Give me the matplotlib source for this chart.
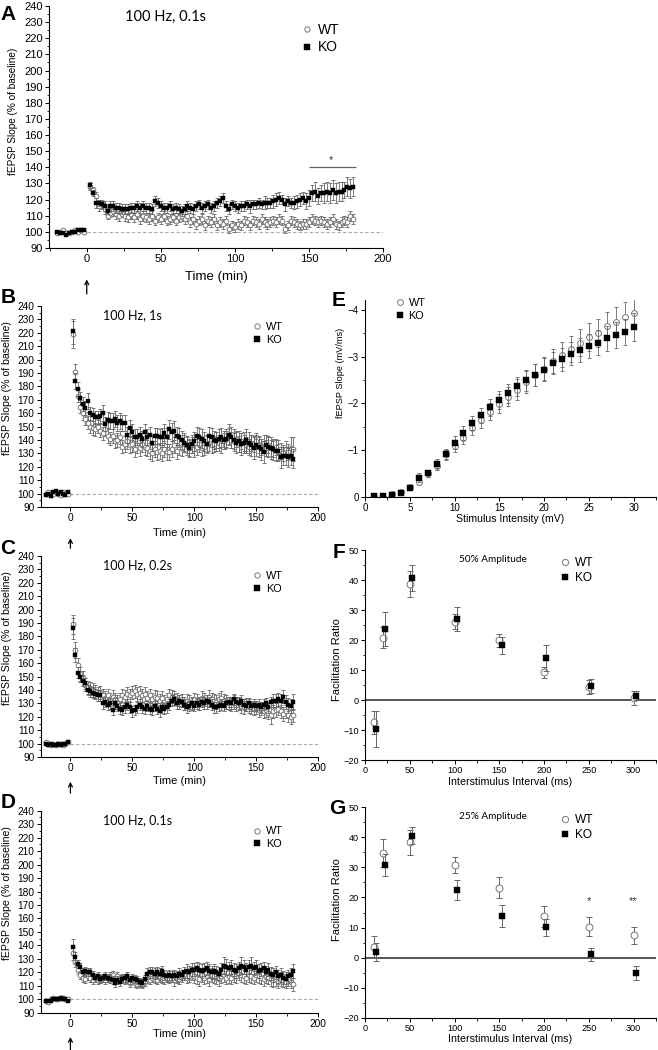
import numpy as np
import matplotlib
matplotlib.use('Agg')
import matplotlib.pyplot as plt
from matplotlib.lines import Line2D
from matplotlib.ticker import MultipleLocator

plt.rcParams['font.family'] = ['Liberation Sans', 'DejaVu Sans']
plt.rcParams['axes.linewidth'] = 0.8

# ---- time course data (baseline -20..-2 min, post 2..180 min, every 2 min) ----
t_base = np.arange(-20, 0, 2)
t_post = np.arange(2, 182, 2)

A_ko_base = [100, 99, 99, 98, 99, 100, 100, 101, 101, 101]
A_wt_base = [99, 100, 101, 99, 99, 100, 101, 100, 101, 100]
A_ko = [129, 124, 118, 118, 117, 116, 113, 116, 116, 115,
        115, 114, 114, 114, 115, 115, 116, 115, 116, 115,
        115, 114, 119, 118, 116, 115, 115, 116, 114, 115,
        114, 113, 114, 116, 115, 114, 116, 117, 115, 116,
        117, 115, 116, 118, 119, 121, 116, 114, 117, 116,
        115, 116, 116, 117, 116, 117, 117, 118, 117, 118,
        118, 118, 119, 120, 121, 120, 117, 119, 118, 118,
        119, 120, 121, 119, 121, 124, 125, 122, 124, 124,
        125, 124, 126, 124, 125, 125, 126, 128, 127, 128]
A_wt = [128, 126, 122, 116, 117, 114, 110, 112, 113, 111,
        110, 111, 110, 109, 111, 109, 111, 108, 110, 109,
        108, 110, 107, 109, 108, 110, 107, 108, 109, 107,
        109, 110, 108, 110, 106, 108, 105, 107, 108, 104,
        107, 106, 108, 104, 106, 105, 107, 102, 104, 103,
        105, 104, 107, 106, 104, 107, 106, 105, 108, 106,
        105, 106, 107, 106, 108, 107, 102, 104, 107, 106,
        105, 104, 105, 105, 106, 108, 107, 106, 107, 106,
        105, 106, 108, 105, 104, 106, 107, 106, 110, 108]
A_ko_err = [2, 2, 3, 2, 3, 3, 2, 3, 3, 3,
            3, 3, 3, 3, 3, 3, 3, 3, 3, 3,
            3, 3, 3, 3, 3, 3, 3, 3, 3, 3,
            3, 3, 3, 3, 3, 3, 3, 3, 3, 3,
            3, 3, 3, 3, 3, 3, 3, 3, 3, 3,
            3, 3, 3, 3, 4, 3, 3, 3, 3, 4,
            3, 3, 4, 4, 4, 3, 4, 3, 3, 4,
            4, 4, 4, 5, 5, 5, 6, 5, 5, 6,
            6, 6, 6, 6, 6, 6, 5, 6, 6, 6]
A_wt_err = [2, 2, 3, 3, 2, 3, 2, 3, 3, 3,
            3, 2, 3, 3, 3, 3, 3, 3, 3, 3,
            3, 3, 3, 3, 3, 3, 3, 3, 3, 3,
            3, 3, 3, 3, 3, 3, 3, 3, 3, 3,
            3, 3, 3, 3, 3, 3, 3, 3, 3, 3,
            3, 3, 3, 3, 3, 3, 3, 3, 3, 3,
            3, 3, 3, 3, 3, 3, 3, 3, 3, 3,
            3, 3, 3, 3, 3, 3, 3, 3, 3, 3,
            3, 3, 3, 3, 3, 3, 3, 3, 3, 3]

B_ko_base = [99, 100, 98, 101, 102, 100, 101, 100, 99, 101]
B_wt_base = [100, 101, 99, 100, 101, 100, 99, 101, 100, 100]
B_ko = [221, 184, 178, 171, 167, 164, 169, 160, 159, 157,
        157, 158, 160, 152, 155, 154, 154, 156, 153, 154,
        153, 153, 144, 149, 146, 142, 142, 144, 141, 146,
        142, 144, 138, 143, 143, 142, 142, 145, 142, 148,
        146, 147, 143, 142, 140, 138, 136, 134, 137, 139,
        143, 142, 141, 139, 137, 143, 142, 140, 139, 141,
        142, 140, 141, 144, 142, 140, 138, 139, 137, 138,
        140, 138, 136, 134, 136, 135, 133, 131, 136, 135,
        134, 133, 132, 132, 127, 128, 128, 127, 128, 126]
B_wt = [219, 191, 173, 165, 160, 156, 153, 150, 149, 148,
        150, 147, 145, 148, 143, 141, 143, 139, 140, 142,
        135, 137, 139, 136, 137, 133, 136, 134, 137, 135,
        134, 132, 130, 133, 131, 132, 130, 133, 131, 131,
        133, 136, 132, 135, 134, 138, 136, 134, 136, 133,
        135, 137, 134, 135, 137, 138, 136, 137, 140, 138,
        136, 139, 141, 143, 140, 139, 141, 137, 139, 138,
        136, 135, 138, 137, 139, 136, 135, 138, 134, 136,
        134, 133, 135, 131, 132, 130, 133, 131, 134, 133]
B_ko_err = [9, 6, 5, 5, 5, 5, 6, 5, 5, 5,
            5, 5, 6, 5, 6, 6, 6, 6, 6, 6,
            6, 6, 6, 6, 6, 6, 6, 6, 6, 6,
            6, 6, 6, 6, 6, 6, 7, 7, 7, 7,
            7, 7, 7, 7, 7, 7, 7, 7, 7, 7,
            7, 7, 7, 7, 7, 7, 7, 7, 7, 7,
            7, 7, 7, 8, 8, 8, 8, 8, 8, 8,
            8, 8, 8, 8, 8, 8, 8, 8, 8, 8,
            8, 8, 8, 8, 8, 7, 7, 7, 7, 7]
B_wt_err = [10, 6, 5, 5, 5, 5, 5, 5, 5, 5,
            5, 5, 5, 5, 5, 5, 5, 5, 5, 5,
            5, 6, 6, 6, 6, 6, 6, 6, 6, 6,
            6, 6, 6, 6, 6, 6, 6, 6, 6, 6,
            6, 6, 6, 6, 6, 6, 6, 6, 6, 6,
            6, 6, 6, 6, 6, 6, 6, 6, 6, 6,
            6, 6, 6, 6, 6, 6, 6, 6, 6, 6,
            6, 6, 6, 6, 6, 6, 6, 6, 6, 6,
            6, 6, 6, 6, 6, 6, 6, 6, 8, 9]

C_ko_base = [100, 99, 100, 99, 99, 100, 99, 100, 100, 101]
C_wt_base = [101, 100, 99, 100, 99, 100, 100, 99, 100, 101]
C_ko = [186, 166, 153, 150, 147, 145, 140, 139, 138, 137,
        136, 136, 130, 131, 129, 130, 125, 130, 128, 126,
        125, 127, 129, 127, 124, 125, 127, 129, 127, 126,
        128, 126, 125, 128, 126, 124, 127, 126, 127, 129,
        132, 133, 130, 132, 131, 129, 127, 128, 130, 128,
        130, 129, 131, 130, 132, 131, 129, 127, 127, 128,
        129, 128, 130, 131, 130, 133, 131, 130, 132, 129,
        128, 130, 128, 129, 128, 129, 127, 129, 130, 127,
        131, 132, 132, 133, 132, 135, 131, 129, 128, 131]
C_wt = [189, 170, 159, 152, 149, 144, 142, 141, 140, 139,
        137, 138, 136, 134, 136, 133, 135, 133, 131, 133,
        136, 135, 137, 136, 138, 139, 137, 138, 136, 137,
        134, 136, 133, 135, 134, 132, 134, 131, 133, 136,
        135, 134, 133, 131, 132, 130, 132, 131, 130, 133,
        132, 130, 134, 133, 131, 135, 133, 132, 131, 133,
        134, 132, 131, 130, 129, 131, 129, 130, 128, 127,
        129, 128, 127, 126, 127, 125, 126, 124, 125, 123,
        121, 124, 125, 126, 124, 122, 124, 121, 120, 121]
C_ko_err = [8, 5, 4, 4, 4, 4, 4, 4, 4, 4,
            4, 4, 4, 4, 4, 4, 4, 4, 4, 4,
            4, 4, 4, 4, 4, 4, 4, 4, 4, 4,
            4, 4, 4, 4, 4, 4, 4, 4, 4, 4,
            4, 4, 4, 4, 4, 4, 4, 4, 4, 4,
            4, 4, 4, 4, 4, 4, 4, 4, 4, 4,
            4, 4, 4, 4, 4, 4, 4, 4, 4, 4,
            4, 4, 4, 4, 4, 4, 4, 4, 4, 4,
            4, 5, 5, 5, 5, 5, 5, 5, 5, 6]
C_wt_err = [7, 6, 5, 5, 5, 5, 5, 5, 5, 5,
            5, 5, 5, 5, 5, 5, 5, 5, 5, 5,
            5, 5, 5, 5, 5, 5, 5, 5, 5, 5,
            5, 5, 5, 5, 5, 5, 5, 5, 5, 5,
            5, 5, 5, 5, 5, 5, 5, 5, 5, 5,
            5, 5, 5, 5, 5, 5, 5, 5, 5, 5,
            5, 5, 5, 5, 5, 5, 5, 5, 5, 5,
            5, 5, 5, 5, 5, 5, 5, 5, 5, 5,
            6, 5, 5, 5, 5, 5, 5, 5, 5, 5]

D_ko_base = [99, 99, 99, 100, 100, 100, 101, 100, 100, 99]
D_wt_base = [99, 98, 100, 101, 100, 100, 101, 101, 100, 100]
D_ko = [139, 131, 126, 124, 120, 121, 120, 120, 118, 116,
        117, 115, 116, 117, 116, 115, 114, 112, 114, 113,
        115, 116, 117, 114, 116, 115, 114, 113, 112, 115,
        119, 120, 120, 119, 120, 119, 121, 118, 117, 118,
        117, 118, 117, 119, 118, 120, 121, 120, 122, 122,
        123, 122, 121, 122, 123, 121, 120, 121, 120, 119,
        122, 125, 124, 123, 124, 122, 121, 123, 125, 124,
        122, 124, 125, 123, 124, 121, 122, 123, 120, 122,
        119, 118, 120, 117, 118, 116, 115, 117, 118, 121]
D_wt = [134, 128, 122, 118, 116, 115, 117, 116, 114, 116,
        114, 115, 116, 114, 116, 117, 118, 116, 117, 115,
        116, 114, 115, 112, 114, 112, 111, 112, 111, 113,
        115, 114, 116, 115, 114, 116, 115, 114, 116, 115,
        117, 114, 116, 115, 117, 118, 116, 117, 119, 117,
        116, 115, 118, 116, 117, 115, 118, 117, 116, 115,
        117, 118, 116, 117, 116, 118, 117, 119, 118, 117,
        116, 118, 117, 116, 118, 117, 116, 115, 117, 116,
        115, 114, 115, 113, 115, 114, 113, 115, 113, 111]
D_ko_err = [6, 4, 3, 3, 3, 3, 3, 3, 3, 3,
            3, 3, 3, 3, 3, 3, 3, 3, 3, 3,
            3, 3, 3, 3, 3, 3, 3, 3, 3, 3,
            4, 4, 4, 4, 4, 4, 4, 4, 4, 4,
            4, 4, 4, 4, 4, 4, 5, 5, 5, 5,
            5, 5, 5, 5, 5, 5, 5, 5, 5, 5,
            5, 6, 6, 5, 5, 5, 5, 5, 6, 5,
            5, 5, 6, 5, 5, 5, 5, 5, 5, 5,
            5, 5, 5, 5, 5, 5, 5, 5, 5, 5]
D_wt_err = [5, 4, 3, 3, 3, 3, 3, 3, 3, 3,
            3, 3, 3, 3, 3, 3, 3, 3, 3, 3,
            3, 3, 3, 3, 3, 3, 3, 3, 3, 3,
            3, 3, 3, 3, 3, 3, 3, 3, 3, 3,
            4, 4, 4, 4, 4, 4, 4, 4, 5, 5,
            5, 5, 5, 5, 5, 5, 5, 5, 5, 5,
            5, 5, 5, 5, 5, 5, 5, 5, 5, 5,
            5, 5, 5, 5, 5, 5, 5, 5, 5, 5,
            5, 5, 5, 5, 5, 5, 5, 5, 5, 5]

# ---- input/output curve (panel E) ----
stim = np.arange(1, 31)
E_wt = [-0.01, 0.0, -0.05, -0.1, -0.21, -0.32, -0.5, -0.66, -0.91, -1.08,
        -1.26, -1.46, -1.64, -1.82, -1.99, -2.14, -2.29, -2.45, -2.6, -2.74,
        -2.9, -3.04, -3.16, -3.3, -3.41, -3.51, -3.65, -3.73, -3.84, -3.93]
E_ko = [-0.02, -0.01, -0.04, -0.07, -0.18, -0.41, -0.5, -0.71, -0.91, -1.16,
        -1.36, -1.57, -1.74, -1.91, -2.07, -2.21, -2.36, -2.49, -2.61, -2.72,
        -2.86, -2.94, -3.06, -3.14, -3.23, -3.3, -3.39, -3.46, -3.52, -3.64]
E_wt_err = [0.01, 0.01, 0.02, 0.03, 0.05, 0.07, 0.08, 0.09, 0.1, 0.13,
            0.14, 0.15, 0.16, 0.18, 0.2, 0.2, 0.22, 0.23, 0.24, 0.25,
            0.26, 0.27, 0.28, 0.28, 0.3, 0.3, 0.3, 0.32, 0.33, 0.35]
E_ko_err = [0.01, 0.01, 0.02, 0.03, 0.04, 0.1, 0.08, 0.1, 0.12, 0.13,
            0.15, 0.15, 0.16, 0.18, 0.19, 0.2, 0.21, 0.22, 0.23, 0.24,
            0.24, 0.25, 0.25, 0.26, 0.26, 0.27, 0.27, 0.28, 0.28, 0.3]

# ---- paired-pulse facilitation (panels F, G) ----
isi_wt = [10, 20, 50, 100, 150, 200, 250, 300]
isi_ko = [12.5, 22.5, 52.5, 102.5, 152.5, 202.5, 252.5, 302.5]
F_wt = [-7.4, 20.8, 38.7, 26.1, 19.9, 9.2, 4.3, 0.6]
F_wt_err = [3.9, 3.6, 4.3, 2.5, 2.2, 1.8, 2.4, 2.3]
F_ko = [-9.8, 23.6, 40.6, 27.0, 18.3, 14.0, 4.7, 1.4]
F_ko_err = [6.0, 5.7, 4.3, 4.0, 2.8, 4.2, 2.4, 1.5]
G_wt = [3.4, 34.9, 38.3, 30.8, 23.2, 13.8, 10.3, 7.4]
G_wt_err = [3.7, 4.6, 4.2, 2.8, 3.5, 3.5, 3.2, 2.8]
G_ko = [1.7, 30.8, 40.6, 22.4, 13.9, 10.1, 1.1, -5.2]
G_ko_err = [3.0, 3.6, 2.8, 3.3, 3.6, 2.9, 2.2, 2.3]

W, H = 658, 1050
fig = plt.figure(figsize=(W / 100, H / 100), dpi=100)


def box(l, t, r, b):
    return [l / W, 1 - b / H, (r - l) / W, (b - t) / H]


GRAY = '#666666'
WT_KW = dict(marker='o', ls='none', mfc='white', mec='#777777', mew=0.7)
KO_KW = dict(marker='s', ls='none', mfc='black', mec='black', mew=0.3)


def style(ax, fs):
    for s in ['top', 'right']:
        ax.spines[s].set_visible(False)
    ax.tick_params(which='major', direction='out', length=3, width=0.7, labelsize=fs, pad=1.5)
    ax.tick_params(which='minor', direction='out', length=1.8, width=0.6)


def legend(ax, x, y, fs, ms, spacing=0.25):
    h = [Line2D([], [], ms=ms, **WT_KW), Line2D([], [], ms=ms, **KO_KW)]
    ax.legend(h, ['WT', 'KO'], loc='upper left', bbox_to_anchor=(x, y), frameon=False,
              borderpad=0, borderaxespad=0, handlelength=0.8, handletextpad=0.4,
              labelspacing=spacing, fontsize=fs)


def time_panel(rect, xmin, ko_b, wt_b, ko, wt, ko_e, wt_e, title, fs_tick, fs_lab, fs_ylab,
               fs_title, fs_leg, leg_xy, ylab_xy, xlab_y, arrow):
    ax = fig.add_axes(rect)
    ax.hlines(100, 0, 200, colors='#aaaaaa', linestyles=(0, (3, 2)), lw=0.8)
    ms = 3.4
    ax.errorbar(t_post, wt, yerr=wt_e, fmt='none', ecolor=GRAY, elinewidth=0.6, capsize=1.3, capthick=0.6)
    ax.errorbar(t_base, wt_b, yerr=1, fmt='none', ecolor=GRAY, elinewidth=0.6, capsize=1.0, capthick=0.6)
    ax.plot(t_post, wt, ms=ms, **WT_KW)
    ax.plot(t_base, wt_b, ms=ms, **WT_KW)
    ax.errorbar(t_post, ko, yerr=ko_e, fmt='none', ecolor=GRAY, elinewidth=0.6, capsize=1.3, capthick=0.6)
    ax.plot(t_post, ko, ms=ms - 0.4, **KO_KW)
    ax.plot(t_base, ko_b, ms=ms - 0.4, **KO_KW)
    ax.set_xlim(xmin, 200)
    ax.set_ylim(90, 240)
    ax.xaxis.set_major_locator(MultipleLocator(50))
    ax.xaxis.set_minor_locator(MultipleLocator(25))
    ax.yaxis.set_major_locator(MultipleLocator(10))
    ax.yaxis.set_minor_locator(MultipleLocator(5))
    style(ax, fs_tick)
    ax.set_xlabel('Time (min)', fontsize=fs_lab)
    ax.xaxis.set_label_coords(0.5, xlab_y)
    ax.set_ylabel('fEPSP Slope (% of baseline)', fontsize=fs_ylab)
    ax.yaxis.set_label_coords(*ylab_xy)
    ax.text(26, 233, title, fontsize=fs_title, family=['Lato', 'DejaVu Sans'], va='center')
    legend(ax, leg_xy[0], leg_xy[1], fs_leg, 3.8)
    ax.annotate('', xy=(0, arrow[0]), xytext=(0, arrow[1]),
                xycoords=('data', 'axes fraction'), textcoords=('data', 'axes fraction'),
                arrowprops=dict(arrowstyle='->', lw=0.9, color='black', shrinkA=0, shrinkB=0,
                                mutation_scale=7), annotation_clip=False)
    return ax


axA = time_panel(box(49, 6, 383, 248), -25.5, A_ko_base, A_wt_base, A_ko, A_wt, A_ko_err, A_wt_err,
                 '100 Hz, 0.1s', 8, 9.5, 7.2, 10.5, 10, (0.756, 0.93), (-0.093, 0.566), -0.097,
                 (-0.13, -0.19))
axA.hlines(140, 150, 182, colors=GRAY, lw=0.9)
axA.text(165, 141.5, '*', ha='center', va='bottom', fontsize=8, color='#333333')

axB = time_panel(box(40.7, 306, 318, 507), -24, B_ko_base, B_wt_base, B_ko, B_wt, B_ko_err, B_wt_err,
                 '100 Hz, 1s', 7.3, 8, 7.6, 9, 7.8, (0.765, 0.92), (-0.104, 0.59), -0.102,
                 (-0.155, -0.205))
axC = time_panel(box(40.7, 556, 318, 757), -24, C_ko_base, C_wt_base, C_ko, C_wt, C_ko_err, C_wt_err,
                 '100 Hz, 0.2s', 7.3, 8, 7.6, 9, 7.8, (0.765, 0.925), (-0.104, 0.59), -0.095,
                 (-0.123, -0.18))
axD = time_panel(box(40.7, 810.7, 318, 1012.7), -24, D_ko_base, D_wt_base, D_ko, D_wt, D_ko_err, D_wt_err,
                 '100 Hz, 0.1s', 7.3, 8, 7.6, 9, 7.8, (0.765, 0.922), (-0.104, 0.59), -0.083,
                 (-0.12, -0.185))

# ---- panel E ----
axE = fig.add_axes(box(365, 300, 656, 496.7))
axE.errorbar(stim, E_wt, yerr=E_wt_err, fmt='none', ecolor=GRAY, elinewidth=0.6, capsize=1.5, capthick=0.6)
axE.plot(stim, E_wt, ms=4.2, **WT_KW)
axE.errorbar(stim, E_ko, yerr=E_ko_err, fmt='none', ecolor=GRAY, elinewidth=0.6, capsize=1.5, capthick=0.6)
axE.plot(stim, E_ko, ms=3.8, **KO_KW)
axE.set_xlim(0, 32.5)
axE.set_ylim(0, -4.21)
axE.xaxis.set_major_locator(MultipleLocator(5))
axE.xaxis.set_minor_locator(MultipleLocator(2.5))
axE.yaxis.set_major_locator(MultipleLocator(1))
axE.yaxis.set_minor_locator(MultipleLocator(0.5))
style(axE, 7)
axE.set_xlabel('Stimulus Intensity (mV)', fontsize=7.6)
axE.xaxis.set_label_coords(0.5, -0.09)
axE.set_ylabel('fEPSP Slope (mV/ms)', fontsize=6.6)
axE.yaxis.set_label_coords(-0.07, 0.63)
legend(axE, 0.105, 1.01, 7.8, 4.2)

# ---- panels F and G ----
def ppf_panel(rect, wt, wt_e, ko, ko_e, title, ylab_y, xlab_y):
    ax = fig.add_axes(rect)
    ax.axhline(0, color='#555555', lw=1.4, zorder=1)
    ax.errorbar(isi_wt, wt, yerr=wt_e, fmt='none', ecolor=GRAY, elinewidth=0.7, capsize=2, capthick=0.7)
    ax.plot(isi_wt, wt, ms=5, **WT_KW)
    ax.errorbar(isi_ko, ko, yerr=ko_e, fmt='none', ecolor=GRAY, elinewidth=0.7, capsize=2, capthick=0.7)
    ax.plot(isi_ko, ko, ms=4.6, **KO_KW)
    ax.set_xlim(0, 325)
    ax.set_ylim(-20, 50)
    ax.xaxis.set_major_locator(MultipleLocator(50))
    ax.xaxis.set_minor_locator(MultipleLocator(25))
    ax.yaxis.set_major_locator(MultipleLocator(10))
    ax.yaxis.set_minor_locator(MultipleLocator(5))
    style(ax, 6.6)
    ax.set_xlabel('Interstimulus Interval (ms)', fontsize=7.7)
    ax.xaxis.set_label_coords(0.5, xlab_y)
    ax.set_ylabel('Facilitation Ratio', fontsize=8)
    ax.yaxis.set_label_coords(-0.08, ylab_y)
    ax.text(105, 47, title, fontsize=7.2, family=['Lato', 'DejaVu Sans'], va='center')
    legend(ax, 0.672, 0.968, 8.6, 4.5)
    return ax


axF = ppf_panel(box(365, 550, 656, 760), F_wt, F_wt_err, F_ko, F_ko_err, '50% Amplitude', 0.48, -0.083)
axG = ppf_panel(box(365, 807.3, 656, 1017.7), G_wt, G_wt_err, G_ko, G_ko_err, '25% Amplitude', 0.56, -0.077)
axG.text(250, 17, '*', ha='center', va='bottom', fontsize=8, color='#333333')
axG.text(300, 17, '**', ha='center', va='bottom', fontsize=8, color='#333333')

# ---- panel letters ----
for lab, x, y in [('A', 8, 14), ('B', 8, 298), ('C', 8, 548), ('D', 8, 803),
                  ('E', 339, 300), ('F', 339, 553), ('G', 337, 808)]:
    fig.text(x / W, 1 - y / H, lab, fontsize=15, fontweight='bold', ha='center', va='center')

fig.savefig('out.png', dpi=100)
